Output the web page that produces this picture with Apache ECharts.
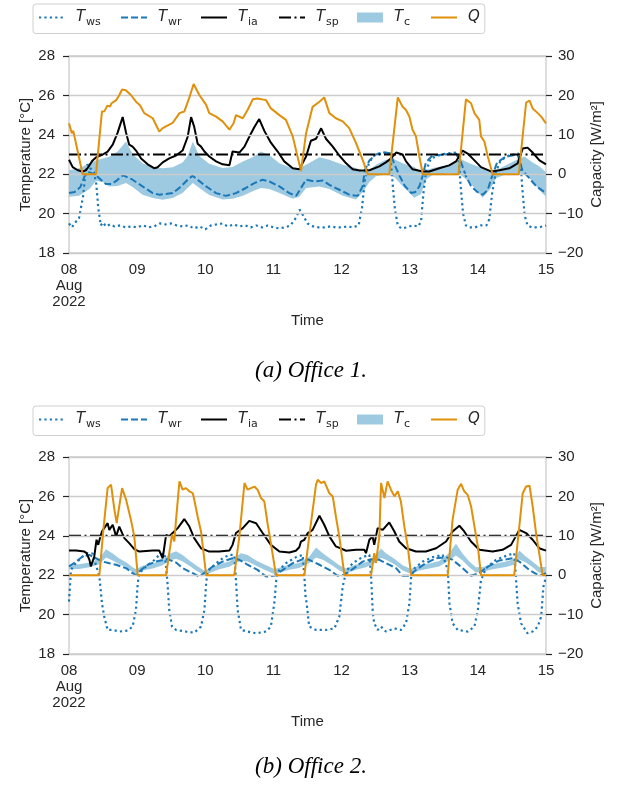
<!DOCTYPE html>
<html><head><meta charset="utf-8">
<script src="https://cdn.jsdelivr.net/npm/echarts@6/dist/echarts.min.js"></script>
<style>html,body{margin:0;padding:0;background:#fff}#c{width:622px;height:787px}</style>
</head><body><div id="c"></div>
<script>
// ---------- shared ----------
const dayLabels = ['08\nAug\n2022', '09', '10', '11', '12', '13', '14', '15'];
const tempTicks = [18, 28, 2];      // min, max, step (°C)
const capTicks = [-20, 30, 10];     // min, max, step (W/m2)
const captions = ['(a) Office 1.', '(b) Office 2.'];

// ---------- Office 1 (hours since 08 Aug 00:00) ----------
const setpoint1 = 23;
const tws1 = [[0,19.5],[1,19.3],[1.5,19.2],[2.5,19.6],[3.5,19.75],[4.2,19.8],[5,20.9],[5.8,22.1],[6.5,22.5],[7.5,22.3],[8.8,22.1],[9.6,21.5],[10.3,20.3],[11.2,19.4],[12,19.55],[13,19.35],[14.5,19.45],[16,19.35],[18,19.4],[20,19.3],[22,19.35],[24,19.3],[26,19.4],[28,19.3],[30,19.35],[32,19.5],[34,19.45],[36,19.5],[38,19.4],[40,19.35],[42,19.4],[44,19.25],[46,19.35],[48,19.2],[50,19.4],[52,19.45],[54,19.5],[56,19.35],[58,19.45],[60,19.35],[62,19.4],[64,19.3],[66,19.4],[68,19.3],[70,19.4],[72,19.3],[74,19.25],[76,19.3],[78,19.4],[80,19.8],[81.2,20.2],[82.5,19.9],[84,19.5],[86,19.35],[88,19.3],[90,19.3],[92,19.35],[94,19.3],[96,19.3],[98,19.35],[100,19.3],[102,19.4],[103.2,20.3],[104.2,21.7],[105.5,22.5],[107,22.9],[109,23.05],[111,23.1],[112.5,23.1],[113.3,22.8],[114,21.5],[114.8,20.2],[115.8,19.4],[117,19.25],[119,19.3],[121,19.4],[123,19.35],[124,19.6],[124.8,21],[125.8,22.2],[127.5,22.8],[130,22.95],[133,23.05],[136.5,23.1],[137.3,22.7],[138,21.3],[138.8,20],[139.8,19.4],[141,19.3],[143,19.3],[145,19.4],[147,19.4],[148,19.7],[149,21],[150.3,22.1],[152,22.7],[155,22.95],[158.3,23.05],[159,22.6],[159.7,21.2],[160.5,19.9],[161.5,19.4],[163,19.3],[165,19.3],[167,19.35],[168,19.4]];
const twr1 = [[0,21.05],[2,21.1],[4,21.35],[5.5,21.9],[7,22.1],[9,22.0],[11,21.75],[13,21.5],[15,21.5],[17,21.7],[19,21.95],[22.4,21.72],[25.9,21.38],[29.5,21.04],[31.8,20.96],[36.5,21.04],[39.5,21.38],[41.8,21.72],[43.5,21.92],[45.3,21.72],[48.3,21.38],[51.8,21.04],[55.3,20.9],[58.8,21.04],[62.3,21.3],[65.3,21.55],[68.2,21.72],[70.6,21.63],[74.1,21.38],[77.6,21.04],[80,20.9],[81.7,21.3],[83.5,21.72],[86.4,21.63],[89.4,21.68],[91.7,21.46],[95.2,21.21],[98.7,20.96],[101.7,20.9],[103.4,21.38],[104.2,22.2],[105.8,22.7],[108,23.0],[111.5,23.1],[113.3,23.05],[114.6,22.5],[116.5,21.9],[118.3,21.4],[120.5,21.05],[122,21.1],[123.4,21.38],[124.5,21.9],[125.7,22.6],[128,22.95],[132,23.0],[136.3,23.05],[138.1,22.6],[139.8,21.9],[141.6,21.4],[143.8,21.1],[145.7,20.96],[147.5,21.21],[149,21.9],[150.8,22.6],[153.9,22.9],[158,23.0],[159.7,22.2],[161.5,21.9],[164.5,21.4],[168,21.04]];
const tia1 = [[0,22.73],[1.3,22.36],[3.1,22.2],[4.8,22.14],[6,22.2],[7.2,22.45],[8.3,22.7],[9.5,22.85],[11.9,23.0],[13.6,23.15],[15.4,23.5],[17.1,24.1],[18.9,24.9],[20.1,24.1],[21.2,23.5],[22.4,23.4],[23.6,23.2],[25.4,22.8],[27.7,22.5],[30.1,22.3],[31.2,22.35],[33,22.6],[35.3,22.8],[37.7,22.95],[40,23.2],[41.8,23.9],[43,24.9],[44.1,24.4],[45.3,23.55],[46.5,23.4],[47.7,23.15],[49.4,22.9],[51.8,22.65],[54.1,22.5],[56.5,22.45],[57.6,23.15],[60,23.1],[61.8,23.4],[63.5,23.9],[65.3,24.4],[67,24.8],[68.8,24.2],[71.1,23.6],[73.5,23.15],[75.8,22.65],[78.8,22.3],[81.1,22.25],[81.7,22.2],[83.5,22.9],[84.1,22.8],[85.2,23.7],[87,23.8],[88.8,24.33],[90.5,23.8],[92.9,23.4],[95.2,22.95],[97.6,22.55],[99.9,22.25],[102.3,22.19],[105.8,22.2],[109.3,22.4],[111.6,22.6],[113.4,22.8],[115.2,23.1],[117.5,23.0],[118.7,22.65],[121,22.25],[124.6,22.14],[126.9,22.14],[130.4,22.3],[133.9,22.45],[136.3,22.65],[138.6,23.2],[140.4,23.05],[142.8,22.7],[145.1,22.36],[148.6,22.14],[151.6,22.2],[155.1,22.3],[158,22.55],[159.8,23.3],[161.5,23.35],[163.3,23.1],[165.7,22.7],[168,22.5]];
// [hour, lower, upper]
const tc1 = [[0,20.85,22.2],[3.6,20.9,22.3],[7.2,21.25,22.55],[9.5,21.65,22.7],[11.9,21.6,22.8],[14.2,21.38,22.88],[17.1,21.4,23.15],[20.1,21.55,23.66],[22.4,21.35,23.03],[25.9,20.96,22.56],[29.5,20.79,22.36],[33,20.7,22.3],[36.5,20.79,22.35],[40,21.04,22.6],[41.8,21.3,22.93],[43.6,21.55,23.66],[45.9,21.3,22.93],[49.4,20.95,22.53],[54.1,20.72,22.31],[57.6,20.75,22.36],[61.2,20.9,22.64],[64.7,21.13,22.86],[67.6,21.3,23.15],[70.6,21.25,22.96],[74.1,21.04,22.56],[78.8,20.75,22.29],[81.1,20.85,22.31],[83.5,21.3,22.48],[88.2,21.38,22.86],[91.7,21.25,22.73],[96.4,20.9,22.48],[101.1,20.72,22.31],[104,21.2,22.14],[105.8,21.6,22.2],[108.1,21.9,22.48],[111.6,22.0,22.73],[114.6,21.85,22.76],[117.5,21.4,22.56],[121.6,20.8,22.36],[124,21.0,22.14],[125.7,21.72,22.2],[128.1,21.97,22.31],[134,22.05,22.48],[138.1,21.95,22.76],[141,21.6,22.56],[145.7,20.8,22.3],[148.6,21.3,22.1],[150.4,21.8,22.2],[153.9,22.0,22.45],[158.6,22.05,22.8],[160.4,21.97,22.9],[163.3,21.65,22.6],[165.6,21.2,22.4],[168,20.85,22.1]];
const q1 = [[0,12.9],[1,10.4],[1.5,11],[2,10.6],[3,6],[4.8,0],[9.5,0],[11.6,15.9],[12.5,16],[13.5,17.4],[14.5,17.2],[15,18],[16.6,18.8],[17.5,19.8],[18.7,21.5],[20,21.3],[21.8,20.1],[23.6,18.4],[25,17.5],[26.5,15.5],[29.5,14.2],[31.8,10.8],[33,11.7],[36.5,13],[38.9,15.5],[40.6,15.9],[42.4,19.5],[43.9,22.9],[45.9,20.1],[48.3,17.6],[49.4,15.5],[51.8,14.6],[54.1,13.4],[56.5,11.3],[58,13],[58.8,15],[59.4,14.6],[61.2,14.2],[62.9,16.3],[64.7,19],[66.4,19.2],[69.4,18.8],[71.1,16.7],[74.1,15],[76.4,13.8],[78.8,9.6],[81.7,0.8],[83.5,10.4],[85.8,17.1],[88.2,18.4],[89.9,19.5],[91.7,15.5],[94,14.2],[96.4,13.4],[98.7,11.7],[101.1,7.9],[103.4,3.7],[105.2,0],[112.8,0],[115.8,19.5],[117.5,17.1],[118.7,16.3],[119.9,14.6],[121,11.3],[122.2,9.6],[123.4,4.5],[124.6,0],[137.2,0],[139.8,19],[141.6,18],[142.8,15.5],[144.5,13.8],[145.1,9.6],[146.3,8.3],[147.5,4.5],[149.2,0],[158.4,0],[161,18.2],[162.2,18.7],[163.3,16.7],[165.1,15.5],[166.3,14.6],[168,12.9]];

// ---------- Office 2 ----------
const setpoint2 = 24;
const tws2 = [[0,20.66],[0.7,22.27],[1.9,22.53],[3.6,22.78],[5.4,23.03],[6.6,23.12],[8.3,23.1],[10.7,21.93],[11.6,20.58],[12.4,19.9],[13.6,19.22],[15.4,19.22],[17.7,19.14],[20.7,19.19],[22.4,19.39],[23.6,20.24],[24.2,21.59],[24.8,22.1],[27.1,22.44],[29.5,22.69],[31.8,23.03],[33.6,23.12],[34.2,22.44],[34.7,21.59],[35.3,20.24],[36.3,19.39],[37.7,19.22],[41.2,19.14],[44.1,19.08],[46.5,19.39],[47.7,20.24],[48.3,21.59],[48.8,22.19],[51.2,22.53],[54.1,22.86],[56.5,23.03],[58.2,23.03],[58.8,21.76],[59.4,20.24],[60.6,19.22],[62.9,19.14],[65.9,19.05],[69.4,19.14],[71.1,19.39],[72.3,20.58],[73.1,21.93],[74.1,22.27],[76.4,22.61],[80,22.92],[82.3,23.03],[82.9,21.93],[83.3,20.92],[83.7,20.58],[84.6,19.39],[87,19.22],[90.5,19.22],[93.5,19.3],[95.2,19.9],[96.4,21.42],[97.6,22.19],[99.9,22.61],[103.4,22.92],[105.8,23.03],[106.4,21.93],[107,20.07],[107.5,19.56],[108.7,19.22],[109.9,19.39],[111.6,19.14],[114.6,19.3],[116.9,19.22],[118.7,19.56],[119.9,20.58],[120.5,21.93],[121.7,22.36],[124.6,22.69],[128.1,22.92],[131.6,23.03],[133.4,22.27],[134,20.58],[135.1,19.56],[136.9,19.22],[140.4,19.14],[142.8,19.39],[144,20.24],[145.1,21.76],[146.9,22.36],[150.4,22.78],[153.9,22.98],[156.8,23.12],[157.4,21.93],[158,20.58],[159.2,19.56],[161.5,19.05],[163.3,19.14],[165.1,19.39],[166.3,19.9],[167.1,21.42],[168,21.93]];
const twr2 = [[0,22.44],[2.5,22.69],[4.8,22.95],[7.2,23.03],[9.5,22.86],[11.9,22.69],[14.2,22.61],[16.6,22.53],[18.3,22.44],[20.1,22.36],[22.4,22.1],[23.6,22.0],[25.4,22.27],[27.7,22.53],[30.6,22.69],[34.2,22.81],[35.3,22.78],[37.7,22.64],[40,22.36],[43.6,22.1],[45.9,21.93],[48.3,22.19],[50.6,22.44],[54.1,22.69],[57.6,22.86],[60,22.78],[62.9,22.53],[66.4,22.27],[69.4,21.93],[72.3,21.97],[75.3,22.27],[78.8,22.61],[82.3,22.81],[84.6,22.78],[88.2,22.53],[91.7,22.27],[94.6,21.97],[97,22.02],[99.9,22.31],[103.4,22.69],[106.4,22.81],[109.3,22.78],[111.6,22.61],[115.2,22.36],[117.5,21.97],[119.9,21.97],[122.2,22.27],[125.7,22.61],[129.3,22.86],[132.8,22.92],[135.1,22.78],[138.6,22.36],[141.6,21.97],[144.5,22.1],[147.5,22.44],[151.6,22.75],[156.3,22.86],[158.6,22.69],[162.1,22.27],[165.6,21.97],[168,22.1]];
const tia2 = [[0,23.25],[2.5,23.25],[5.4,23.2],[6.2,23.12],[7.2,22.78],[7.7,22.44],[8.9,22.95],[9.7,23.8],[10.3,23.54],[10.9,23.88],[11.6,24.22],[12.4,24.39],[13.6,24.64],[14.2,24.3],[15.4,24.56],[16.6,23.97],[17.7,24.47],[19.5,23.88],[21.2,23.63],[23,23.32],[24.8,23.2],[29.5,23.25],[31.8,23.25],[33,22.86],[34.2,24.05],[35.3,23.97],[36.5,24.14],[38.3,24.39],[40.6,24.85],[42.4,24.47],[44.1,23.88],[46.5,23.37],[49.4,23.2],[52.9,23.2],[56.5,23.25],[57.6,23.54],[58.8,24.14],[61.2,24.39],[63.5,24.76],[65.9,24.64],[68.2,24.14],[71.1,23.54],[74.1,23.2],[77.6,23.15],[79.9,23.24],[81.1,23.42],[81.7,23.71],[82.9,23.8],[84.1,24.14],[85.8,24.3],[88.2,25.02],[89.9,24.56],[91.7,23.97],[94,23.46],[97.6,23.24],[101.1,23.29],[104,23.29],[104.6,23.12],[105.8,23.8],[106.9,23.97],[107.5,23.54],[108.7,24.39],[110.5,24.3],[112.8,24.68],[114.6,24.22],[116.3,23.71],[118.7,23.37],[122.2,23.2],[125.7,23.2],[129.3,23.37],[132.8,23.71],[135.1,24.22],[137.5,24.51],[139.2,24.22],[141.6,23.71],[144.5,23.29],[149.2,23.2],[152.7,23.29],[155.7,23.54],[158.6,24.3],[161,24.14],[163.3,23.8],[165.6,23.37],[168,23.25]];
const tc2 = [[0,22.3,22.55],[3.6,22.32,22.56],[7.2,22.4,22.65],[10.7,22.55,22.83],[13,22.9,23.32],[15.4,22.75,23.1],[17.7,22.55,22.85],[20.1,22.42,22.66],[22.4,22.15,22.4],[23.6,22.07,22.32],[25.9,22.24,22.48],[29.5,22.34,22.6],[33,22.5,22.77],[35.3,22.75,23.08],[37.7,22.83,23.22],[40,22.7,23.02],[42.4,22.48,22.75],[44.7,22.24,22.5],[47.7,21.98,22.22],[49.4,22.1,22.35],[52.9,22.3,22.56],[56.5,22.43,22.7],[58.8,22.62,22.95],[60.6,22.72,23.12],[62.9,22.7,23.02],[65.9,22.48,22.75],[69.4,22.24,22.5],[72.3,22.06,22.32],[74.1,22.12,22.38],[77.6,22.28,22.54],[81.1,22.36,22.62],[84.6,22.62,22.94],[87,22.9,23.4],[89.4,22.78,23.12],[92.9,22.48,22.75],[95.2,22.24,22.5],[97.6,22.1,22.34],[101.1,22.28,22.54],[104.6,22.4,22.66],[107,22.55,22.82],[109.9,22.88,23.36],[111.6,22.78,23.12],[114.6,22.55,22.83],[117.5,22.24,22.5],[120.5,22.06,22.32],[123.4,22.24,22.5],[126.9,22.34,22.6],[130.4,22.44,22.72],[134,22.76,23.14],[136.3,23.0,23.6],[138.6,22.75,23.1],[141,22.4,22.7],[143.3,22.14,22.4],[145.7,22.17,22.42],[149.2,22.3,22.56],[153.9,22.42,22.7],[156.8,22.53,22.82],[158.6,22.8,23.25],[160.9,22.65,22.95],[163.3,22.4,22.68],[165.6,22.12,22.42],[168,22.12,22.42]];
const q2 = [[0,0],[10.7,0],[12.1,11.5],[13.6,22.1],[14.8,23.0],[16,16.6],[16.8,13.2],[17.7,17.5],[18.7,22.1],[20.1,19.2],[21.8,14.1],[23,9.8],[24.2,0],[34.2,0],[35.3,5.6],[36.3,10.3],[37.1,8.6],[37.7,14.1],[38.9,23.8],[40,21.7],[41.2,22.1],[42.4,21.3],[43.6,20.8],[44.1,19.2],[45.3,14.9],[46.5,11.1],[48.3,0],[58.2,0],[60,9.8],[61.8,23.4],[62.9,21.7],[64.1,22.1],[65.3,22.5],[66.4,21.7],[67.6,19.6],[68.8,18.7],[70,12.8],[71.1,8.1],[72.9,0],[82.9,0],[84.6,9.8],[87,23.0],[87.6,24.2],[88.8,23.4],[89.9,23.8],[91.7,20.8],[92.9,20.0],[94,14.9],[95.2,9.8],[97,0],[106.4,0],[107.5,5.6],[108.1,3.1],[109.3,9.8],[109.9,23.4],[111.1,19.6],[112.2,23.8],[113.4,21.7],[114.6,20.0],[115.8,21.3],[116.9,18.7],[118.1,12.4],[119.3,7.3],[120.5,0],[133.4,0],[135.1,14.1],[136.9,21.7],[138.1,23.2],[139.2,21.3],[140.4,20.4],[141.6,17.5],[142.8,12.4],[144,7.3],[145.1,0],[156.8,0],[158.6,12.4],[159.8,20.8],[161,22.5],[162.2,22.7],[163.3,17.5],[164.5,10.7],[165.6,5.6],[166.8,0],[168,0]];

// ---------- styling ----------
const BLUE = '#1a78b8', ORANGE = '#e0900a', BAND = '#9ecae1', INK = '#262626', GRID = '#cccccc';
const SANS = '"Liberation Sans", Arial, sans-serif';
const gridTops = [56, 457];
const legendTops = [4, 406];
const captionY = [372, 768];
const legendKeys = ['ws', 'wr', 'ia', 'sp', 'c', 'Q'];

const offices = [
  {tws: tws1, twr: twr1, tia: tia1, tc: tc1, q: q1, sp: setpoint1},
  {tws: tws2, twr: twr2, tia: tia2, tc: tc2, q: q2, sp: setpoint2}
];

const grid = [], xAxis = [], yAxis = [], series = [], legend = [], graphic = [];
const minusFmt = v => v < 0 ? '\u2212' + Math.abs(v) : String(v);

const subStyle = w => ({fontFamily: '"DejaVu Sans"', fontSize: 11, lineHeight: 12, color: INK, verticalAlign: 'bottom', width: w});
const legendRich = {
  p: {width: 6, fontSize: 10},
  i: {fontFamily: '"DejaVu Sans"', fontStyle: 'italic', fontSize: 15, lineHeight: 20, color: INK, verticalAlign: 'middle', width: 10},
  q: {fontFamily: '"DejaVu Sans"', fontStyle: 'italic', fontSize: 15, lineHeight: 20, color: INK, verticalAlign: 'middle', width: 11},
  ws: subStyle(34), wr: subStyle(32), ia: subStyle(30), sp: subStyle(31), c: subStyle(26)
};

offices.forEach((o, g) => {
  grid.push({left: 69, width: 477, top: gridTops[g], height: 197, show: true, borderColor: GRID, borderWidth: 1.3, backgroundColor: '#fff'});
  xAxis.push({type: 'value', gridIndex: g, min: 0, max: 168, interval: 24,
    name: 'Time', nameLocation: 'middle', nameGap: 60, nameMoveOverlap: false,
    nameTextStyle: {fontFamily: SANS, fontSize: 15, color: INK},
    axisLine: {show: false}, axisTick: {show: false}, splitLine: {show: false},
    axisLabel: {fontFamily: SANS, fontSize: 15, color: INK, margin: 9, lineHeight: 16,
      showMinLabel: true, showMaxLabel: true, formatter: v => dayLabels[Math.round(v / 24)]}});
  yAxis.push({type: 'value', gridIndex: g, position: 'left', min: tempTicks[0], max: tempTicks[1], interval: tempTicks[2],
    name: 'Temperature [°C]', nameLocation: 'middle', nameRotate: 90, nameGap: 36, nameMoveOverlap: false,
    nameTextStyle: {fontFamily: SANS, fontSize: 15, color: INK},
    axisLine: {show: false}, axisTick: {show: true, length: 6, lineStyle: {color: INK, width: 1.2}},
    splitLine: {show: false},
    axisLabel: {fontFamily: SANS, fontSize: 15, color: INK, margin: 14}});
  yAxis.push({type: 'value', gridIndex: g, position: 'right', min: capTicks[0], max: capTicks[1], interval: capTicks[2], z: 3,
    name: 'Capacity [W/m²]', nameLocation: 'middle', nameRotate: 90, nameGap: 43, nameMoveOverlap: false,
    nameTextStyle: {fontFamily: SANS, fontSize: 15, color: INK},
    axisLine: {show: false}, axisTick: {show: true, length: 6, lineStyle: {color: INK, width: 1.2}},
    splitLine: {show: true, lineStyle: {color: GRID, width: 1.3}},
    axisLabel: {fontFamily: SANS, fontSize: 15, color: INK, margin: 12, formatter: minusFmt}});

  const p = 'o' + g + '_';
  const base = {type: 'line', xAxisIndex: g, yAxisIndex: 2 * g, symbol: 'none', showSymbol: false, animation: false, z: 2};
  // Tc band as a polygon through the axis scales
  series.push({type: 'custom', name: p + 'c', xAxisIndex: g, yAxisIndex: 2 * g, z: 1, animation: false,
    data: o.tc, encode: {x: 0, y: [1, 2]}, itemStyle: {color: BAND}, clip: true,
    renderItem: (params, api) => {
      if (params.dataIndex !== 0) return null;
      const up = o.tc.map(r => api.coord([r[0], r[2]]));
      const lo = o.tc.map(r => api.coord([r[0], r[1]])).reverse();
      return {type: 'polygon', shape: {points: up.concat(lo)}, style: {fill: BAND, stroke: null}};
    }});
  series.push(Object.assign({}, base, {name: p + 'ws', data: o.tws, itemStyle: {color: BLUE},
    lineStyle: {color: BLUE, width: 2.2, type: [2.2, 3.2]}}));
  series.push(Object.assign({}, base, {name: p + 'wr', data: o.twr, itemStyle: {color: BLUE},
    lineStyle: {color: BLUE, width: 2, type: [7, 3]}}));
  series.push(Object.assign({}, base, {name: p + 'ia', data: o.tia, itemStyle: {color: '#000'},
    lineStyle: {color: '#000', width: 2}}));
  series.push(Object.assign({}, base, {name: p + 'sp', data: [[0, o.sp], [168, o.sp]], itemStyle: {color: '#000'},
    lineStyle: {color: '#000', width: 2, type: [12, 3.5, 2, 3.5]}}));
  series.push(Object.assign({}, base, {name: p + 'Q', yAxisIndex: 2 * g + 1, data: o.q, itemStyle: {color: ORANGE},
    lineStyle: {color: ORANGE, width: 2}, z: 4}));

  legend.push({
    left: 33, top: legendTops[g], orient: 'horizontal', itemGap: 0, itemWidth: 26, itemHeight: 10,
    padding: [6, 5, 6, 5], borderColor: '#d0d0d0', borderWidth: 1, borderRadius: 3, backgroundColor: '#fff',
    selectedMode: false,
    itemStyle: {opacity: 0, borderWidth: 0},
    data: legendKeys.map(k => {
      const d = {name: p + k};
      if (k === 'c') { d.icon = 'rect'; d.itemStyle = {color: BAND, opacity: 1, borderWidth: 0}; }
      return d;
    }),
    formatter: name => {
      const k = name.slice(p.length);
      return k === 'Q' ? '{p| }{q|Q}' : '{p| }{i|T}{' + k + '|' + k + '}';
    },
    textStyle: {color: INK, rich: legendRich}
  });

  graphic.push({type: 'text', left: 'center', top: captionY[g] - 13,
    style: {text: captions[g], font: 'italic 23px "Liberation Serif", serif', fill: '#000'}});
});

const chart = echarts.init(document.getElementById('c'), null, {renderer: 'canvas'});
chart.setOption({backgroundColor: '#fff', animation: false, grid, xAxis, yAxis, series, legend, graphic});
</script></body></html>
